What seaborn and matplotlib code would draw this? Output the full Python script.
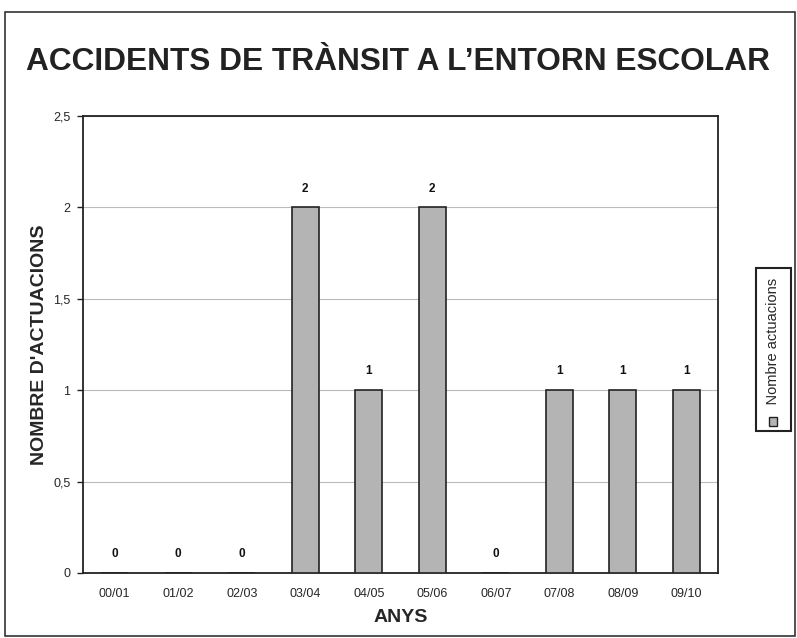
import matplotlib
matplotlib.use("Agg")
import matplotlib.pyplot as plt
import matplotlib.patches as mpatches
import seaborn as sns
import pandas as pd

# --------------------------------------------------------------
# Data
# --------------------------------------------------------------

anys = ["00/01", "01/02", "02/03", "03/04", "04/05", "05/06", "06/07", "07/08", "08/09", "09/10"]
actuacions = [0, 0, 0, 2, 1, 2, 0, 1, 1, 1]
y_ticks = [0, 0.5, 1, 1.5, 2, 2.5]
y_tick_labels = ["0", "0,5", "1", "1,5", "2", "2,5"]

df = pd.DataFrame({"anys": anys, "actuacions": actuacions})

# --------------------------------------------------------------
# Plot settings
# --------------------------------------------------------------

sns.set_theme(style="white")
plt.rcParams["font.family"] = ["Liberation Sans", "DejaVu Sans"]

fig = plt.figure(figsize=(7.97, 6.38), dpi=100)
ax = fig.add_axes([0.104, 0.102, 0.797, 0.716])

sns.barplot(
  data=df,
  x="anys",
  y="actuacions",
  color="#b4b4b4",
  edgecolor="#222222",
  linewidth=1.2,
  width=0.42,
  saturation=1,
  ax=ax,
  zorder=3,
)

ax.set_ylim(0, 2.5)
ax.set_yticks(y_ticks)
ax.set_yticklabels(y_tick_labels)
ax.yaxis.grid(True, color="#bbbbbb", linewidth=0.8, zorder=0)
ax.set_axisbelow(True)
for s in ax.spines.values():
  s.set_color("#222222")
  s.set_linewidth(1.3)
ax.tick_params(axis="y", left=True, length=4, width=1, color="#222222", labelsize=9, pad=5)
ax.tick_params(axis="x", bottom=False, labelsize=9, pad=5)

# value labels
for i, v in enumerate(actuacions):
  ax.text(i, v + 0.07, str(v), ha="center", va="bottom", fontsize=8.5, fontweight="bold", color="#111111")

ax.set_xlabel("ANYS", fontsize=14, fontweight="bold", labelpad=6)
ax.set_ylabel("NOMBRE D'ACTUACIONS", fontsize=14, fontweight="bold", labelpad=4)

# title
fig.text(0.5, 0.903, "ACCIDENTS DE TRÀNSIT A L\u2019ENTORN ESCOLAR", ha="center", va="center",
         fontsize=22.8, fontweight="bold", color="#222222")

# legend (rotated box)
fig.text(0.9705, 0.452, "    Nombre actuacions", rotation=90, ha="center", va="center", fontsize=10.5,
         bbox=dict(boxstyle="square,pad=0.7", facecolor="white", edgecolor="#222222", linewidth=1.5))
fig.patches.append(mpatches.Rectangle((0.9645, 0.333), 0.011, 0.0135, transform=fig.transFigure,
                                      facecolor="#b4b4b4", edgecolor="#222222", linewidth=1, zorder=5))

# outer frame
fig.patches.append(mpatches.Rectangle((0.006, 0.003), 0.992, 0.978, transform=fig.transFigure,
                                      fill=False, edgecolor="#333333", linewidth=1.2))

plt.savefig("out.png", dpi=100)
